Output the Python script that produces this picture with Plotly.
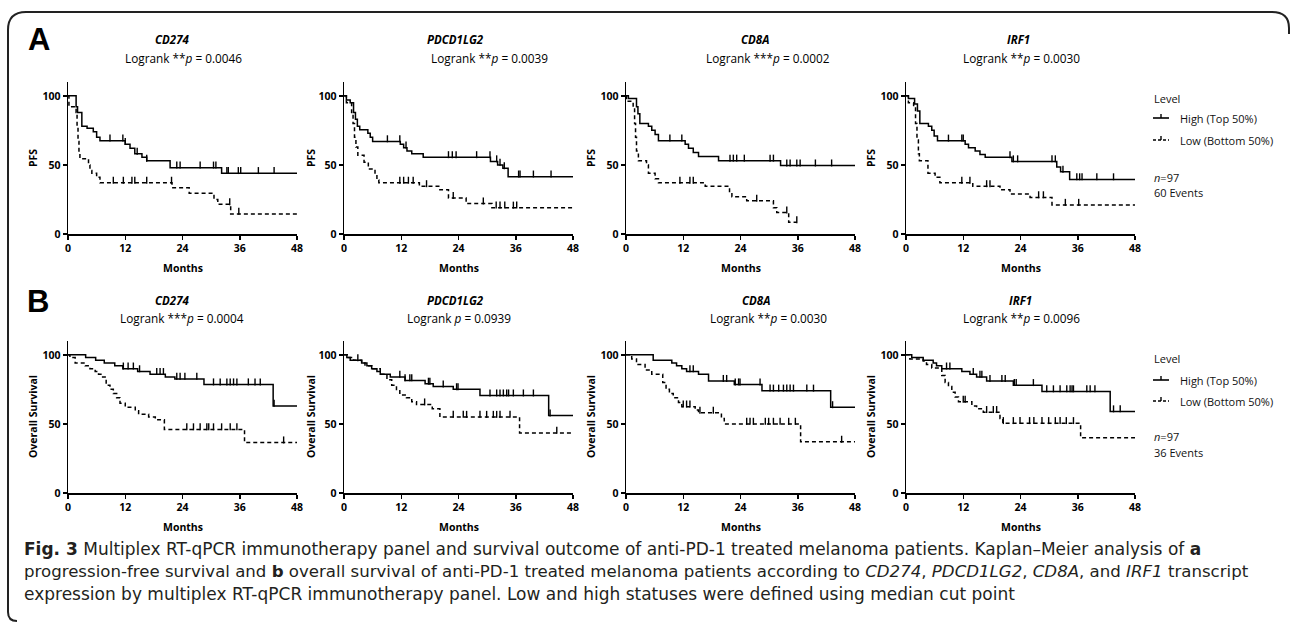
import plotly.graph_objects as go

# ---------------- data ----------------
genes = ["CD274", "PDCD1LG2", "CD8A", "IRF1"]
pfs_stars = ["**", "**", "***", "**"]
pfs_pvals = ["0.0046", "0.0039", "0.0002", "0.0030"]
os_stars = ["***", "", "**", "**"]
os_pvals = ["0.0004", "0.0939", "0.0030", "0.0096"]
x_ticks = [0, 12, 24, 36, 48]
y_ticks = [0, 50, 100]
legend_labels = ["High (Top 50%)", "Low (Bottom 50%)"]
n_patients = 97
pfs_events = 60
os_events = 36

# PFS - CD274
pfs_cd274_hi_t = [0, 1.7, 2.0, 2.9, 4.0, 5.3, 6.0, 6.7, 12.0, 13.0, 14.0, 15.5, 16.5, 21.4, 32.2, 48]
pfs_cd274_hi_s = [100, 92, 88, 78, 76.5, 74, 70, 67.5, 65, 62, 58, 55.5, 53, 48, 44, 44]
pfs_cd274_hi_c = [8.8, 11.5, 12.0, 14.5, 16.5, 22.8, 23.5, 27.7, 30.5, 31.0, 33.3, 33.6, 35.7, 36.2, 39.9, 43.2]
pfs_cd274_lo_t = [0, 0.2, 1.7, 1.9, 2.1, 2.3, 2.5, 4.3, 4.6, 5.0, 6.0, 6.7, 21.8, 25.4, 30.6, 31.4, 34.1, 48]
pfs_cd274_lo_s = [100, 92, 88, 78, 67, 60, 54.5, 50, 46, 44, 41, 37, 33.5, 29.5, 25, 21.5, 14.5, 14.5]
pfs_cd274_lo_c = [9.5, 11.6, 13.4, 14.0, 16.5, 21.7, 33.9, 35.8]

# PFS - PDCD1LG2
pfs_pdcd1lg2_hi_t = [0, 0.5, 1.3, 2.0, 2.4, 2.8, 3.3, 5.0, 5.5, 6.0, 11.8, 12.5, 13.2, 14.2, 16.6, 30.7, 32.2, 33.3, 34.4, 48]
pfs_pdcd1lg2_hi_s = [100, 97, 95, 88, 83, 78, 75.5, 73, 70, 67, 65, 62.5, 60, 58, 55.5, 52.5, 50, 47.5, 41.5, 41.5]
pfs_pdcd1lg2_hi_c = [9.1, 11.7, 13.0, 21.9, 22.7, 23.5, 27.8, 30.6, 32.0, 32.7, 33.6, 36.6, 36.9, 39.7, 43.4]
pfs_pdcd1lg2_lo_t = [0, 0.5, 1.6, 1.9, 2.2, 2.5, 2.9, 4.2, 5.1, 6.5, 6.9, 7.3, 15.8, 20.1, 21.9, 25.6, 31.0, 48]
pfs_pdcd1lg2_lo_s = [100, 95, 88, 80, 70, 63, 57, 52, 47, 43, 39, 37, 34.5, 32, 26, 22, 19, 19]
pfs_pdcd1lg2_lo_c = [11.7, 12.5, 13.5, 14.5, 17.3, 22.9, 29.2, 31.9, 32.7, 33.7, 35.5, 36.2]

# PFS - CD8A
pfs_cd8a_hi_t = [0, 0.5, 2.2, 2.5, 2.9, 4.7, 5.4, 6.1, 6.8, 12.4, 13.1, 14.1, 15.2, 19.4, 32.4, 48]
pfs_cd8a_hi_s = [100, 98, 92, 87, 80, 78, 75, 72, 67.5, 65, 62, 59, 56, 53, 49.5, 49.5]
pfs_cd8a_hi_c = [9.2, 11.7, 21.8, 22.5, 23.2, 24.8, 30.2, 30.9, 33.7, 34.4, 35.8, 36.5, 39.7, 43.1]
pfs_cd8a_lo_t = [0, 0.1, 1.5, 1.8, 2.0, 2.2, 2.6, 4.3, 4.7, 6.1, 6.8, 16.6, 21.7, 22.2, 25.3, 30.9, 31.6, 34.1, 35.8]
pfs_cd8a_lo_s = [100, 96, 92, 80, 70, 60, 53, 50, 44, 40, 37, 34.5, 30, 27, 24, 19, 15.5, 8.5, 8.5]
pfs_cd8a_lo_c = [11.3, 13.4, 14.1, 27.4, 33.7, 35.8]

# PFS - IRF1
pfs_irf1_hi_t = [0, 0.5, 1.8, 2.4, 2.9, 4.7, 5.4, 5.9, 6.6, 12.4, 13.1, 14.5, 15.5, 16.6, 22.2, 31.6, 32.4, 34.3, 48]
pfs_irf1_hi_s = [100, 98, 94, 89, 80, 78, 75, 71, 67.5, 65, 62.5, 60, 57.5, 55.5, 52.5, 48.5, 45, 39.5, 39.5]
pfs_irf1_hi_c = [8.9, 11.7, 12.0, 21.8, 22.5, 23.4, 30.6, 31.3, 32.9, 35.8, 36.4, 36.9, 40.0, 43.5]
pfs_irf1_lo_t = [0, 0.5, 1.6, 2.0, 2.3, 2.6, 2.8, 4.6, 6.1, 7.1, 14.0, 19.7, 21.8, 26.0, 30.6, 48]
pfs_irf1_lo_s = [100, 95, 92, 80, 68, 58, 53, 44, 41, 37, 34.5, 32, 29, 26.5, 21, 21]
pfs_irf1_lo_c = [11.7, 13.4, 16.9, 17.6, 27.8, 28.8, 33.4, 36.2]

# OS - CD274
os_cd274_hi_t = [0, 3.7, 5.8, 7.6, 9.8, 11.5, 14.6, 17.2, 20.4, 22.4, 28.5, 43.0, 48]
os_cd274_hi_s = [100, 98, 96, 94, 92, 90, 88, 86, 84, 82.5, 78.5, 63, 63]
os_cd274_hi_c = [11.6, 12.6, 13.7, 15.0, 18.6, 19.3, 20.0, 22.8, 23.5, 24.5, 27.0, 30.5, 31.9, 33.3,
                 34.0, 34.7, 35.4, 37.8, 39.2, 40.3, 43.2]
os_cd274_lo_t = [0, 0.4, 1.5, 3.6, 4.6, 5.7, 6.4, 7.1, 8.0, 8.8, 9.5, 10.2, 10.9, 12.0, 14.1, 14.8, 16.9, 18.3, 20.2, 37.0, 48]
os_cd274_lo_s = [100, 98, 94, 92, 90, 88, 86, 84, 78, 75, 72, 69, 65, 62, 59.5, 57, 55, 53, 46, 36.5, 36.5]
os_cd274_lo_c = [24.9, 26.3, 27.7, 29.1, 29.5, 30.5, 32.2, 34.0, 35.4, 45.2]

# OS - PDCD1LG2
os_pdcd1lg2_hi_t = [0, 0.6, 1.3, 3.7, 4.8, 5.8, 6.9, 7.6, 9.7, 12.8, 17.0, 18.7, 22.9, 28.5, 42.9, 48]
os_pdcd1lg2_hi_s = [100, 98, 96, 94, 92, 90, 88, 86, 84, 81.5, 79, 77, 75, 70.5, 56, 56]
os_pdcd1lg2_hi_c = [11.7, 12.8, 13.8, 14.2, 17.7, 18.0, 20.8, 23.6, 23.9, 30.6, 32.0, 32.7, 33.4, 34.1,
                    34.5, 35.5, 37.6, 39.7, 43.2]
os_pdcd1lg2_lo_t = [0, 0.9, 2.0, 3.7, 4.4, 5.8, 7.6, 9.0, 10.0, 11.0, 11.7, 13.1, 14.2, 15.2, 18.5, 20.1, 36.8, 48]
os_pdcd1lg2_lo_s = [100, 98, 96, 94, 92, 90, 86, 82, 78, 74, 71, 69, 66, 64, 61, 55, 43.5, 43.5]
os_pdcd1lg2_lo_c = [2.9, 16.9, 22.9, 25.0, 25.7, 28.5, 29.9, 31.3, 32.0, 32.7, 34.8, 44.6]

# OS - CD8A
os_cd8a_hi_t = [0, 5.7, 9.6, 10.6, 11.7, 12.7, 15.2, 17.3, 22.7, 28.5, 42.9, 48]
os_cd8a_hi_s = [100, 96, 94, 92, 90, 88, 86, 81, 78.5, 74, 62, 62]
os_cd8a_hi_c = [13.4, 14.1, 20.4, 21.1, 22.9, 23.6, 23.9, 28.1, 30.2, 30.9, 32.0, 33.0, 33.7, 34.4,
                35.1, 37.9, 39.3, 43.3]
os_cd8a_lo_t = [0, 1.2, 2.2, 4.0, 5.4, 7.7, 8.4, 9.1, 9.9, 11.0, 11.7, 14.5, 15.2, 20.0, 20.6, 36.6, 48]
os_cd8a_lo_s = [100, 97, 93, 89, 86, 80, 75, 72, 69, 65.5, 62.5, 60, 58, 54, 50, 37, 37]
os_cd8a_lo_c = [12.0, 12.7, 13.4, 15.5, 18.3, 25.3, 26.0, 26.7, 29.2, 29.9, 30.9, 32.3, 34.1, 35.5, 45.2]

# OS - IRF1
os_irf1_hi_t = [0, 1.2, 3.6, 5.7, 6.4, 7.5, 11.7, 13.4, 14.8, 16.9, 22.5, 28.5, 42.8, 48]
os_irf1_hi_s = [100, 98, 96, 94, 92, 90, 88, 86, 84, 81, 78, 73.5, 59, 59]
os_irf1_hi_c = [8.5, 9.2, 14.1, 15.5, 15.9, 17.6, 20.1, 20.8, 22.7, 23.1, 26.7, 29.5, 30.9, 32.3, 33.7,
                34.4, 34.8, 35.1, 37.9, 38.6, 39.6, 43.5, 44.9]
os_irf1_lo_t = [0, 0.8, 3.6, 4.3, 5.4, 7.5, 8.2, 8.9, 9.6, 10.3, 11.0, 13.8, 14.8, 16.2, 19.7, 20.3, 36.6, 48]
os_irf1_lo_s = [100, 97, 95.5, 93, 90.5, 85, 80, 77, 73, 69.5, 66, 63, 61, 58.5, 54, 50.5, 40, 40]
os_irf1_lo_c = [12.0, 12.4, 16.9, 18.3, 19.0, 20.4, 22.5, 23.9, 25.9, 26.8, 28.5, 29.9, 31.3, 32.3, 33.6, 35.1]

panels = [
    (pfs_cd274_hi_t, pfs_cd274_hi_s, pfs_cd274_hi_c, pfs_cd274_lo_t, pfs_cd274_lo_s, pfs_cd274_lo_c),
    (pfs_pdcd1lg2_hi_t, pfs_pdcd1lg2_hi_s, pfs_pdcd1lg2_hi_c, pfs_pdcd1lg2_lo_t, pfs_pdcd1lg2_lo_s, pfs_pdcd1lg2_lo_c),
    (pfs_cd8a_hi_t, pfs_cd8a_hi_s, pfs_cd8a_hi_c, pfs_cd8a_lo_t, pfs_cd8a_lo_s, pfs_cd8a_lo_c),
    (pfs_irf1_hi_t, pfs_irf1_hi_s, pfs_irf1_hi_c, pfs_irf1_lo_t, pfs_irf1_lo_s, pfs_irf1_lo_c),
    (os_cd274_hi_t, os_cd274_hi_s, os_cd274_hi_c, os_cd274_lo_t, os_cd274_lo_s, os_cd274_lo_c),
    (os_pdcd1lg2_hi_t, os_pdcd1lg2_hi_s, os_pdcd1lg2_hi_c, os_pdcd1lg2_lo_t, os_pdcd1lg2_lo_s, os_pdcd1lg2_lo_c),
    (os_cd8a_hi_t, os_cd8a_hi_s, os_cd8a_hi_c, os_cd8a_lo_t, os_cd8a_lo_s, os_cd8a_lo_c),
    (os_irf1_hi_t, os_irf1_hi_s, os_irf1_hi_c, os_irf1_lo_t, os_irf1_lo_s, os_irf1_lo_c),
]

# ---------------- layout geometry (pixels) ----------------
W, H = 1292, 626
PANEL_X0 = [68, 344, 626, 906]
PLOT_W = 229
ROW_Y = [(82, 234), (341, 493)]
YMAX = 110
TICK_SHIFT = 1.9  # censor tick raise in data units

GENE_CX = [[172, 455, 755, 1018], [172, 455, 756, 1020]]
LOG_CX = [[183, 489, 768, 1021], [182, 459, 768, 1021]]
TITLE_Y = [40, 300]
LOG_Y = [58, 318]
YLAB_X = [33, 311, 591, 871]
MONTHS_Y = [268, 527]

FONT = "Open Sans"
CAP_FONT = "DejaVu Sans"
CAP_SIZES = [17, 16.6, 17]
BLACK = "#000000"


def pxx(x):
    return x / W


def pyy(y):
    return 1 - y / H


def step_at(ts, ss, t):
    v = ss[0]
    for tt, s in zip(ts, ss):
        if tt <= t:
            v = s
        else:
            break
    return v


fig = go.Figure()
layout = dict(
    width=W, height=H, margin=dict(l=0, r=0, t=0, b=0),
    paper_bgcolor="white", plot_bgcolor="white",
    showlegend=False, hovermode=False, template="none",
    font=dict(family=FONT, color=BLACK),
)

annotations = []
shapes = []

for i, (ht, hs, hc, lt, ls, lc) in enumerate(panels):
    r, c = divmod(i, 4)
    k = i + 1
    sfx = "" if k == 1 else str(k)
    x0 = PANEL_X0[c]
    ytop, ybot = ROW_Y[r]
    axis_common = dict(
        showline=True, linecolor=BLACK, linewidth=1.5, mirror=False,
        ticks="outside", ticklen=4, tickwidth=1.5, tickcolor=BLACK,
        showgrid=False, zeroline=False, fixedrange=True,
        tickfont=dict(family=FONT, size=10.5, color=BLACK, weight=700),
    )
    layout["xaxis" + sfx] = dict(
        domain=[pxx(x0), pxx(x0 + PLOT_W)], range=[0, 48], tickvals=x_ticks,
        anchor="y" + sfx, **axis_common)
    layout["yaxis" + sfx] = dict(
        domain=[pyy(ybot), pyy(ytop)], range=[0, YMAX], tickvals=y_ticks,
        anchor="x" + sfx, **axis_common)
    ov = str(k + 8)
    layout["yaxis" + ov] = dict(
        overlaying="y" + sfx, range=[-TICK_SHIFT, YMAX - TICK_SHIFT],
        visible=False, anchor="x" + sfx, fixedrange=True)

    for t, s, cens, dash in ((ht, hs, hc, "solid"), (lt, ls, lc, "4px,3px")):
        fig.add_trace(go.Scatter(
            x=t, y=s, mode="lines", line=dict(shape="hv", color=BLACK, width=1.5, dash=dash),
            xaxis="x" + sfx, yaxis="y" + sfx, hoverinfo="skip", cliponaxis=False))
        fig.add_trace(go.Scatter(
            x=cens, y=[step_at(t, s, cc) for cc in cens], mode="markers",
            marker=dict(symbol="line-ns", size=5, color=BLACK, line=dict(width=1.4, color=BLACK)),
            xaxis="x" + sfx, yaxis="y" + ov, hoverinfo="skip", cliponaxis=False))

    # titles
    stars = pfs_stars if r == 0 else os_stars
    pvals = pfs_pvals if r == 0 else os_pvals
    annotations.append(dict(
        text="<b><i>%s</i></b>" % genes[c], x=pxx(GENE_CX[r][c]), y=pyy(TITLE_Y[r]),
        xref="paper", yref="paper", showarrow=False, xanchor="center", yanchor="middle",
        font=dict(family=FONT, size=11.5, color=BLACK)))
    annotations.append(dict(
        text="Logrank %s<i>p</i> = %s" % (stars[c], pvals[c]), x=pxx(LOG_CX[r][c]), y=pyy(LOG_Y[r]),
        xref="paper", yref="paper", showarrow=False, xanchor="center", yanchor="middle",
        font=dict(family=FONT, size=11.8, color=BLACK)))
    # axis labels
    annotations.append(dict(
        text="Months", x=pxx(x0 + PLOT_W / 2), y=pyy(MONTHS_Y[r]),
        xref="paper", yref="paper", showarrow=False, xanchor="center", yanchor="middle",
        font=dict(family=FONT, size=10.5, color=BLACK, weight=700)))
    annotations.append(dict(
        text="PFS" if r == 0 else "Overall Survival", x=pxx(YLAB_X[c]), y=pyy((ytop + ybot) / 2),
        xref="paper", yref="paper", showarrow=False, xanchor="center", yanchor="middle", textangle=-90,
        font=dict(family=FONT, size=10.5, color=BLACK, weight=700)))

# panel letters
for letter, (lx, ly) in (("A", (39, 40)), ("B", (38, 302))):
    annotations.append(dict(
        text="<b>%s</b>" % letter, x=pxx(lx), y=pyy(ly), xref="paper", yref="paper",
        showarrow=False, xanchor="center", yanchor="middle",
        font=dict(family="Liberation Sans", size=31, color=BLACK)))

# legends (per row)
LEG_X = 1152
for r, (ylev, yhi, ylo, yn, yev, nev) in enumerate((
        (98, 118, 140, 177, 193, pfs_events), (358, 380, 401, 436, 452, os_events))):
    def txt(s, x, y, size=11):
        annotations.append(dict(text=s, x=pxx(x), y=pyy(y), xref="paper", yref="paper",
                                showarrow=False, xanchor="left", yanchor="middle",
                                font=dict(family=FONT, size=size, color="#111111")))
    txt("Level", LEG_X, ylev)
    txt(legend_labels[0], 1178, yhi)
    txt(legend_labels[1], 1178, ylo)
    txt("<i>n</i>=%d" % n_patients, LEG_X, yn)
    txt("%d Events" % nev, LEG_X, yev)
    for yy, dash in ((yhi, "solid"), (ylo, "3px,2px")):
        shapes.append(dict(type="line", xref="paper", yref="paper",
                           x0=pxx(1153), x1=pxx(1169), y0=pyy(yy), y1=pyy(yy),
                           line=dict(color=BLACK, width=1.6, dash=dash)))
        shapes.append(dict(type="line", xref="paper", yref="paper",
                           x0=pxx(1161), x1=pxx(1161), y0=pyy(yy), y1=pyy(yy - 4),
                           line=dict(color=BLACK, width=1.4)))

# frame (bracket-like rounded border)
pts = "M {a},{b} Q {c},{b} {c},{d} L {c},{e} Q {c},{f} {g},{f} L {h},{f} Q {i},{f} {i},{j} L {i},{k}".format(
    a=pxx(17), b=pyy(621), c=pxx(8), d=pyy(612), e=pyy(30), f=pyy(12), g=pxx(26),
    h=pxx(1272), i=pxx(1289), j=pyy(28), k=pyy(34))
shapes.append(dict(type="path", xref="paper", yref="paper", path=pts,
                   line=dict(color="#222222", width=2)))

# caption
cap_lines = [
    "<b>Fig. 3</b> Multiplex RT-qPCR immunotherapy panel and survival outcome of anti-PD-1 treated "
    "melanoma patients. Kaplan–Meier analysis of <b>a</b>",
    "progression-free survival and <b>b</b> overall survival of anti-PD-1 treated melanoma patients "
    "according to <i>CD274</i>, <i>PDCD1LG2</i>, <i>CD8A</i>, and <i>IRF1</i> transcript",
    "expression by multiplex RT-qPCR immunotherapy panel. Low and high statuses were defined using "
    "median cut point",
]
for j, line in enumerate(cap_lines):
    annotations.append(dict(text=line, x=pxx(22), y=pyy(549 + 22.7 * j), xref="paper", yref="paper",
                            showarrow=False, xanchor="left", yanchor="middle",
                            font=dict(family=CAP_FONT, size=CAP_SIZES[j], color="#231f20")))

layout["annotations"] = annotations
layout["shapes"] = shapes
fig.update_layout(**layout)

fig.write_html("out.html", config={"displayModeBar": False, "staticPlot": True})
